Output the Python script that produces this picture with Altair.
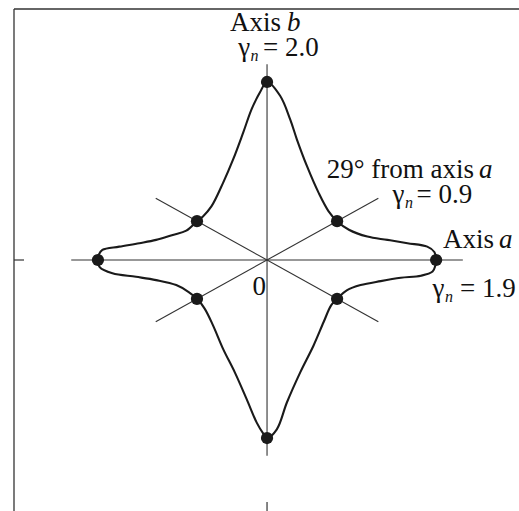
import math
import altair as alt
import pandas as pd

# Orientations of the marked points (degrees from axis a) and their gamma_n values
dot_angle = [0, 29, 90, 151, 180, 209, 270, 331]
dot_gamma = [1.9, 0.9, 2.0, 0.9, 1.9, 0.9, 2.0, 0.9]

# Traced points of the gamma_n polar curve between consecutive marked points
# (x along axis a, y along axis b, in gamma_n units)
seg_x = [
    [1.88, 1.80, 1.578, 1.353, 1.127, 0.92],
    [0.69, 0.58, 0.449, 0.335, 0.26, 0.147],
    [-0.079, -0.173, -0.268, -0.381, -0.494, -0.625, -0.72],
    [-0.907, -1.059, -1.246, -1.435, -1.661, -1.85, -1.89],
    [-1.88, -1.737, -1.472, -1.246, -1.02, -0.88],
    [-0.701, -0.607, -0.494, -0.362, -0.229, -0.116, -0.042],
    [0.11, 0.223, 0.373, 0.523, 0.636, 0.72],
    [0.9, 1.051, 1.277, 1.503, 1.729, 1.86, 1.89],
]
seg_y = [
    [0.09, 0.15, 0.189, 0.226, 0.263, 0.34],
    [0.55, 0.754, 1.054, 1.356, 1.58, 1.845],
    [1.884, 1.695, 1.431, 1.13, 0.867, 0.602, 0.49],
    [0.33, 0.282, 0.226, 0.189, 0.15, 0.113, 0.06],
    [-0.08, -0.15, -0.189, -0.226, -0.282, -0.36],
    [-0.546, -0.734, -0.998, -1.262, -1.563, -1.827, -1.95],
    [-1.902, -1.601, -1.262, -0.96, -0.697, -0.51],
    [-0.339, -0.282, -0.237, -0.2, -0.177, -0.13, -0.065],
]

# Guide lines through the origin: (angle in degrees, half length)
guide_angle = [0, 90, 29, 151]
guide_half = [2.2, 2.2, 1.43, 1.43]

# Annotation pieces
lab_text = ["Axis", "b", "\u03b3", "n", "= 2.0",
            "29\u00b0 from axis", "a", "\u03b3", "n", "= 0.9",
            "Axis", "a", "\u03b3", "n", "= 1.9", "0"]
lab_kind = ["R", "I", "R", "S", "L",
            "R", "I", "R", "S", "L",
            "R", "I", "R", "S", "L", "R"]
lab_x = [0.157, 0.225, -0.19, -0.185, -0.045,
         2.326, 2.382, 1.545, 1.551, 1.68,
         2.551, 2.607, 1.994, 2.0, 2.168, -0.011]
lab_y = [2.573, 2.573, 2.292, 2.236, 2.292,
         0.925, 0.925, 0.64, 0.584, 0.64,
         0.138, 0.138, -0.412, -0.468, -0.412, -0.393]

# ---- tables ----
rad = [math.radians(a) for a in dot_angle]
dots = pd.DataFrame({
    "x": [g * math.cos(r) for g, r in zip(dot_gamma, rad)],
    "y": [g * math.sin(r) for g, r in zip(dot_gamma, rad)],
})

cx, cy = [], []
for i in range(len(dot_angle)):
    cx.append(dots.x[i]); cy.append(dots.y[i])
    cx.extend(seg_x[i]); cy.extend(seg_y[i])
cx.append(dots.x[0]); cy.append(dots.y[0])
curve = pd.DataFrame({"x": cx, "y": cy, "o": list(range(len(cx)))})

guides = pd.DataFrame({
    "x": [-h * math.cos(math.radians(a)) for a, h in zip(guide_angle, guide_half)],
    "y": [-h * math.sin(math.radians(a)) for a, h in zip(guide_angle, guide_half)],
    "x2": [h * math.cos(math.radians(a)) for a, h in zip(guide_angle, guide_half)],
    "y2": [h * math.sin(math.radians(a)) for a, h in zip(guide_angle, guide_half)],
})
labels = pd.DataFrame({"t": lab_text, "k": lab_kind, "x": lab_x, "y": lab_y})

W, H = 505, 502
xs = alt.Scale(domain=[-2.843, 2.831], nice=False, zero=False)
ys = alt.Scale(domain=[-2.82, 2.82], nice=False, zero=False)
X = lambda f: alt.X(f, type="quantitative", scale=xs, axis=None)
Y = lambda f: alt.Y(f, type="quantitative", scale=ys, axis=None)

INK = "#1a1a1a"
FONT = "Liberation Serif"
one = alt.Data(values=[{"v": 0}])

frame_left = alt.Chart(one).mark_rule(color="#333", strokeWidth=1.3).encode(
    x=alt.value(0), y=alt.value(0), y2=alt.value(H))
frame_top = alt.Chart(one).mark_rule(color="#333", strokeWidth=1.3).encode(
    y=alt.value(0), x=alt.value(0), x2=alt.value(W))
tick_left = alt.Chart(one).mark_rule(color="#333", strokeWidth=1.2).encode(
    y=Y("v"), x=alt.value(0), x2=alt.value(10))
tick_bottom = alt.Chart(one).mark_rule(color="#333", strokeWidth=1.2).encode(
    x=X("v"), y=alt.value(H), y2=alt.value(H - 9))

guide_lines = alt.Chart(guides).mark_rule(color="#333", strokeWidth=1.1).encode(
    x=X("x"), y=Y("y"), x2="x2", y2="y2")

curve_line = alt.Chart(curve).mark_line(
    color=INK, strokeWidth=2.1, interpolate="catmull-rom").encode(
    x=X("x"), y=Y("y"), order="o:Q")

dot_marks = alt.Chart(dots).mark_circle(color=INK, size=150, opacity=1).encode(
    x=X("x"), y=Y("y"))


def text_layer(kind, align, style, size):
    return alt.Chart(labels).transform_filter(alt.datum.k == kind).mark_text(
        align=align, baseline="alphabetic", font=FONT, fontSize=size,
        fontStyle=style, color="#111").encode(x=X("x"), y=Y("y"), text="t:N")


texts = [
    text_layer("R", "right", "normal", 27),
    text_layer("L", "left", "normal", 27),
    text_layer("I", "left", "italic", 27),
    text_layer("S", "left", "italic", 16),
]

chart = alt.layer(
    frame_left, frame_top, tick_left, tick_bottom,
    guide_lines, curve_line, dot_marks, *texts
).properties(
    width=W, height=H,
    padding={"left": 14, "top": 9, "right": 0, "bottom": 0},
    autosize=alt.AutoSizeParams(type="none"),
).configure_view(stroke=None)

chart.save("out.html", embed_options={"renderer": "svg", "actions": False})
